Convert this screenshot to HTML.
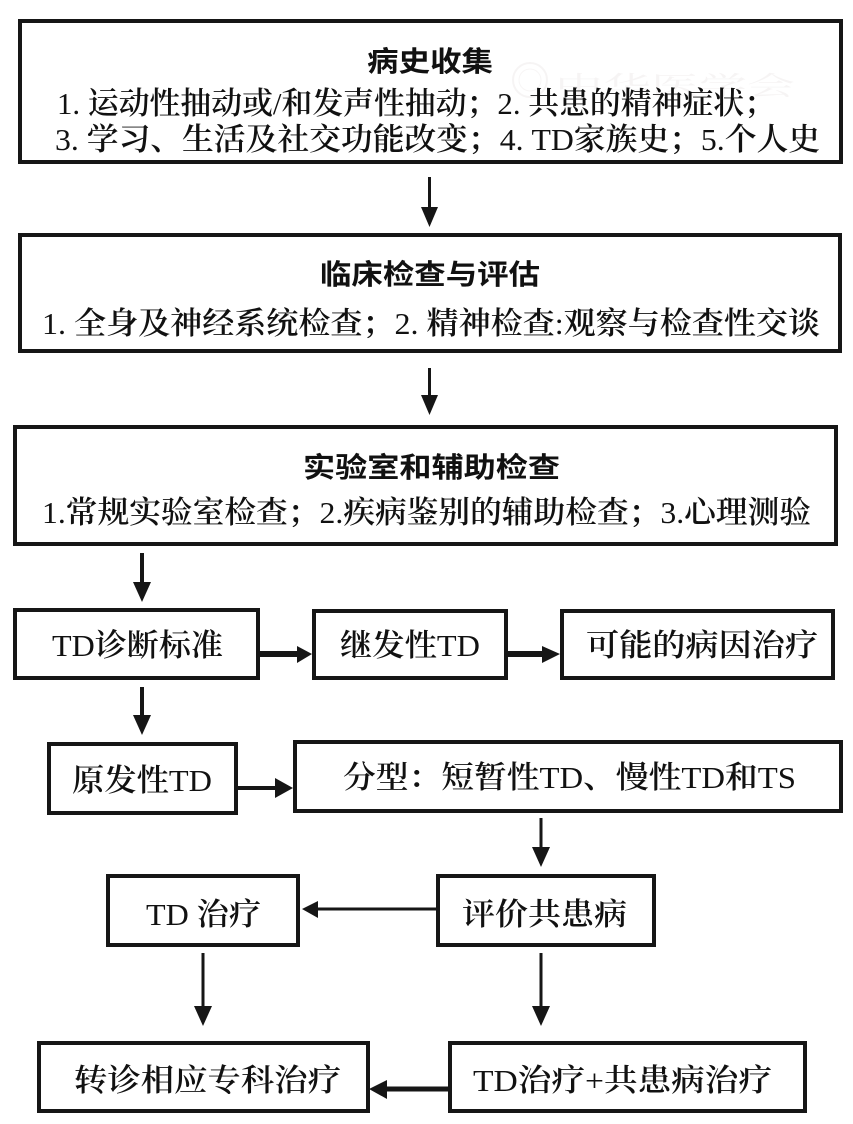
<!DOCTYPE html>
<html>
<head>
<meta charset="utf-8">
<style>
html,body{margin:0;padding:0;background:#fff;}
svg{display:block;}
.t{font-family:"Noto Sans CJK SC","Liberation Sans",sans-serif;font-weight:700;font-size:28px;fill:#111;}
.b{font-family:"Liberation Serif","Noto Serif CJK SC",serif;font-weight:600;font-size:31px;fill:#111;}
.n{font-family:"Liberation Serif","Noto Serif CJK SC",serif;font-weight:600;font-size:31px;fill:#111;}
.l{font-weight:400;}
</style>
</head>
<body>
<svg width="853" height="1124" viewBox="0 0 853 1124" xmlns="http://www.w3.org/2000/svg">
<rect x="0" y="0" width="853" height="1124" fill="#fff"/>

<!-- watermark -->
<g opacity="0.12">
  <circle cx="530" cy="80" r="17" fill="none" stroke="#b8a8a8" stroke-width="2"/>
  <circle cx="530" cy="80" r="11" fill="none" stroke="#c4b6b6" stroke-width="1"/>
  <text x="555" y="95" font-family="Noto Serif CJK SC, serif" font-size="26" fill="#b8a8a8" textLength="240" lengthAdjust="spacingAndGlyphs">中华医学会</text>
</g>

<g fill="none" stroke="#161616" stroke-width="4">
  <rect x="20" y="21" width="821" height="141"/>
  <rect x="20" y="235" width="820" height="116"/>
  <rect x="15" y="427" width="821" height="117"/>
  <rect x="15" y="610" width="243" height="68"/>
  <rect x="314" y="611" width="192" height="67"/>
  <rect x="562" y="611" width="271" height="67"/>
  <rect x="49" y="744" width="187" height="69"/>
  <rect x="295" y="742" width="546" height="69"/>
  <rect x="108" y="876" width="190" height="69"/>
  <rect x="438" y="876" width="216" height="69"/>
  <rect x="39" y="1043" width="329" height="68"/>
  <rect x="450" y="1043" width="355" height="68"/>
</g>

<!-- arrows -->
<g fill="#161616" stroke="none">
  <rect x="428" y="177" width="3" height="32"/>
  <polygon points="421,207 438,207 429.5,227"/>
  <rect x="428" y="368" width="3" height="29"/>
  <polygon points="421,395 438,395 429.5,415"/>
  <rect x="140" y="553" width="4" height="31"/>
  <polygon points="133,582 151,582 142,602"/>
  <rect x="140" y="687" width="4" height="30"/>
  <polygon points="133,715 151,715 142,735"/>
  <rect x="258" y="651" width="42" height="6"/>
  <polygon points="297,646 312,654 297,663"/>
  <rect x="506" y="651" width="39" height="6"/>
  <polygon points="542,646 560,654 542,663"/>
  <rect x="236" y="786" width="41" height="4"/>
  <polygon points="275,778 293,788 275,798"/>
  <rect x="539.5" y="818" width="3" height="31"/>
  <polygon points="532,847 550,847 541,867"/>
  <rect x="316" y="907.5" width="120" height="3"/>
  <polygon points="318,901 302,909 318,918"/>
  <rect x="201.5" y="953" width="3" height="55"/>
  <polygon points="194,1006 212,1006 203,1026"/>
  <rect x="539.5" y="953" width="3" height="55"/>
  <polygon points="532,1006 550,1006 541,1026"/>
  <rect x="385" y="1086.5" width="63" height="5"/>
  <polygon points="387,1080 369,1089 387,1099"/>
</g>

<!-- texts -->
<text class="t" x="367" y="71" textLength="126" lengthAdjust="spacingAndGlyphs">病史收集</text>
<text class="b" x="57" y="114" textLength="718" lengthAdjust="spacingAndGlyphs"><tspan class="l">1. </tspan>运动性抽动或<tspan class="l">/</tspan>和发声性抽动；<tspan class="l">2. </tspan>共患的精神症状；</text>
<text class="b" x="55" y="150" textLength="765" lengthAdjust="spacingAndGlyphs"><tspan class="l">3. </tspan>学习、生活及社交功能改变；<tspan class="l">4. TD</tspan>家族史；<tspan class="l">5.</tspan>个人史</text>

<text class="t" x="320" y="284" textLength="220" lengthAdjust="spacingAndGlyphs">临床检查与评估</text>
<text class="b" x="42" y="334" textLength="778" lengthAdjust="spacingAndGlyphs"><tspan class="l">1. </tspan>全身及神经系统检查；<tspan class="l">2. </tspan>精神检查<tspan class="l">:</tspan>观察与检查性交谈</text>

<text class="t" x="303" y="477" textLength="257" lengthAdjust="spacingAndGlyphs">实验室和辅助检查</text>
<text class="b" x="42" y="523" textLength="769" lengthAdjust="spacingAndGlyphs"><tspan class="l">1.</tspan>常规实验室检查；<tspan class="l">2.</tspan>疾病鉴别的辅助检查；<tspan class="l">3.</tspan>心理测验</text>

<text class="n" x="52" y="656" textLength="171" lengthAdjust="spacingAndGlyphs"><tspan class="l">TD</tspan>诊断标准</text>
<text class="n" x="340" y="656" textLength="140" lengthAdjust="spacingAndGlyphs">继发性<tspan class="l">TD</tspan></text>
<text class="n" x="586" y="656" textLength="232" lengthAdjust="spacingAndGlyphs">可能的病因治疗</text>

<text class="n" x="72" y="791" textLength="140" lengthAdjust="spacingAndGlyphs">原发性<tspan class="l">TD</tspan></text>
<text class="n" x="343" y="788" textLength="453" lengthAdjust="spacingAndGlyphs">分型：短暂性<tspan class="l">TD</tspan>、慢性<tspan class="l">TD</tspan>和<tspan class="l">TS</tspan></text>

<text class="n" x="146" y="925" textLength="115" lengthAdjust="spacingAndGlyphs"><tspan class="l">TD </tspan>治疗</text>
<text class="n" x="462" y="925" textLength="165" lengthAdjust="spacingAndGlyphs">评价共患病</text>

<text class="n" x="74" y="1091" textLength="267" lengthAdjust="spacingAndGlyphs">转诊相应专科治疗</text>
<text class="n" x="473" y="1091" textLength="299" lengthAdjust="spacingAndGlyphs"><tspan class="l">TD</tspan>治疗<tspan class="l">+</tspan>共患病治疗</text>
</svg>
</body>
</html>
